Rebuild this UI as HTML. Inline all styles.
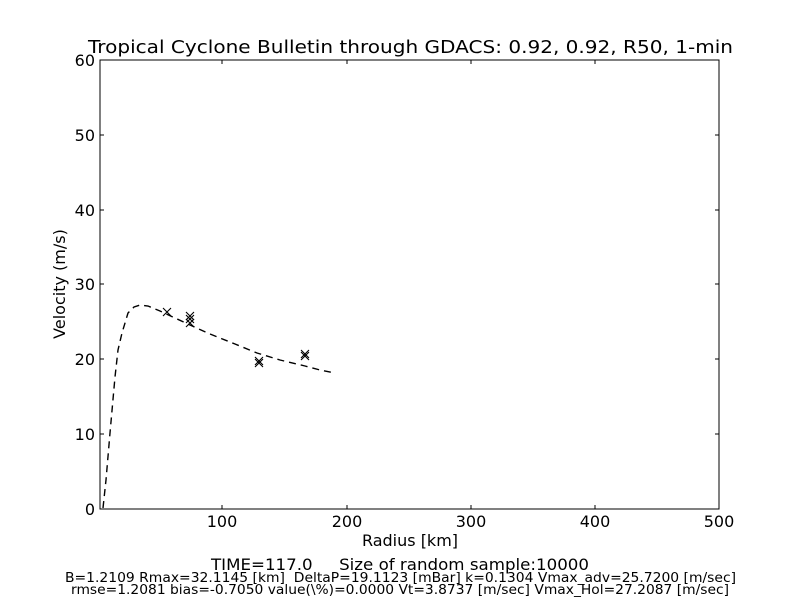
<!DOCTYPE html>
<html><head><meta charset="utf-8"><style>
html,body{margin:0;padding:0;background:#fff;width:800px;height:600px;overflow:hidden}
svg{display:block}
text{font-family:"DejaVu Sans","Liberation Sans",sans-serif;fill:#000}
</style></head><body>
<svg width="800" height="600" viewBox="0 0 800 600" xmlns="http://www.w3.org/2000/svg">
<rect x="0" y="0" width="800" height="600" fill="#fff"/>
<rect x="100" y="60" width="619" height="449" fill="none" stroke="#000" stroke-width="1"/>
<g stroke="#000" stroke-width="1">
<line x1="222" y1="509" x2="222" y2="505"/><line x1="222" y1="60" x2="222" y2="64"/>
<line x1="347" y1="509" x2="347" y2="505"/><line x1="347" y1="60" x2="347" y2="64"/>
<line x1="471" y1="509" x2="471" y2="505"/><line x1="471" y1="60" x2="471" y2="64"/>
<line x1="595" y1="509" x2="595" y2="505"/><line x1="595" y1="60" x2="595" y2="64"/>
<line x1="100" y1="434" x2="104" y2="434"/><line x1="719" y1="434" x2="715" y2="434"/>
<line x1="100" y1="359" x2="104" y2="359"/><line x1="719" y1="359" x2="715" y2="359"/>
<line x1="100" y1="284" x2="104" y2="284"/><line x1="719" y1="284" x2="715" y2="284"/>
<line x1="100" y1="210" x2="104" y2="210"/><line x1="719" y1="210" x2="715" y2="210"/>
<line x1="100" y1="135" x2="104" y2="135"/><line x1="719" y1="135" x2="715" y2="135"/>
</g>
<g font-size="16" text-anchor="middle">
<text x="222" y="527">100</text><text x="347" y="527">200</text><text x="471" y="527">300</text><text x="595" y="527">400</text><text x="719" y="527">500</text>
</g>
<g font-size="16" text-anchor="end">
<text x="95" y="515">0</text><text x="95" y="440">10</text><text x="95" y="365">20</text><text x="95" y="290">30</text><text x="95" y="216">40</text><text x="95" y="141">50</text><text x="95" y="66">60</text>
</g>
<text x="410" y="546" font-size="16" text-anchor="middle">Radius [km]</text>
<text x="0" y="0" font-size="16" text-anchor="middle" transform="translate(65,284) rotate(-90)">Velocity (m/s)</text>
<text x="88" y="53" font-size="18" textLength="645" lengthAdjust="spacingAndGlyphs">Tropical Cyclone Bulletin through GDACS: 0.92, 0.92, R50, 1-min</text>
<path d="M103,508 L106,480 L110,433 L115,377 L118,350 L122,333 L128,313 L134,307 L140,305 L148,306 L160,311 L175,318 L190,325 L210,334 L235,344 L257,353 L280,360 L305,366 L320,370 L335,373" fill="none" stroke="#000" stroke-width="1.4" stroke-dasharray="7,5"/>
<g stroke="#000" stroke-width="1.1" fill="none">
<path d="M163,308 l8,8 M171,308 l-8,8"/>
<path d="M186,312 l8,8 M194,312 l-8,8"/>
<path d="M186,315 l8,8 M194,315 l-8,8"/>
<path d="M186,319 l8,8 M194,319 l-8,8"/>
<path d="M255,357 l8,8 M263,357 l-8,8"/>
<path d="M255,359 l8,8 M263,359 l-8,8"/>
<path d="M301,350 l8,8 M309,350 l-8,8"/>
<path d="M301,352 l8,8 M309,352 l-8,8"/>
</g>
<text x="211" y="570" font-size="16" textLength="378" lengthAdjust="spacingAndGlyphs">TIME=117.0&#160;&#160;&#160;&#160; Size of random sample:10000</text>
<text x="65" y="582" font-size="13" textLength="671" lengthAdjust="spacingAndGlyphs">B=1.2109 Rmax=32.1145 [km]&#160; DeltaP=19.1123 [mBar] k=0.1304 Vmax_adv=25.7200 [m/sec]</text>
<text x="71" y="594" font-size="13" textLength="658" lengthAdjust="spacingAndGlyphs">rmse=1.2081 bias=-0.7050 value(\%)=0.0000 Vt=3.8737 [m/sec] Vmax_Hol=27.2087 [m/sec]</text>
</svg>
</body></html>
